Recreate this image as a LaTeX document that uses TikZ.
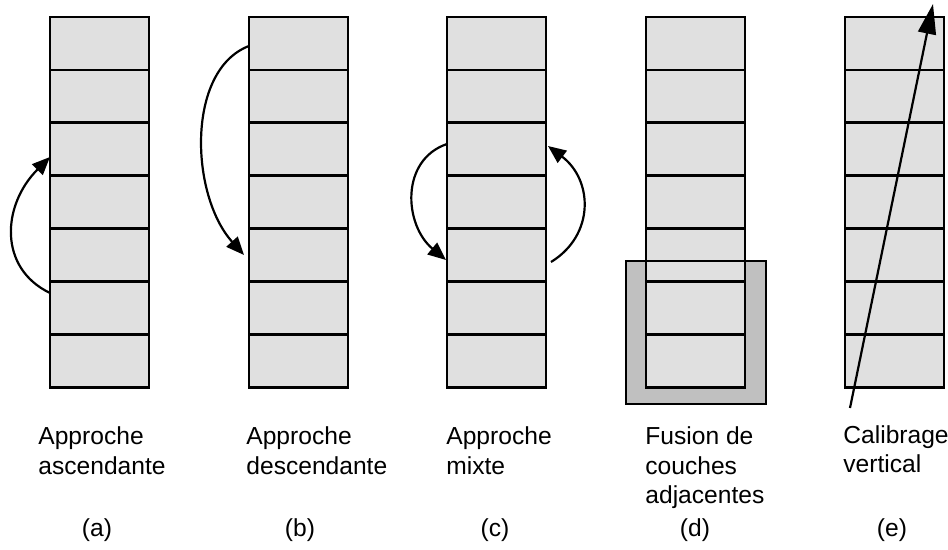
\documentclass[tikz,border=0pt]{standalone}
\usepackage{fontspec}
\setmainfont{Liberation Sans}
\usetikzlibrary{arrows.meta}

\definecolor{cellgray}{HTML}{E0E0E0}
\definecolor{fusegray}{HTML}{C0C0C0}

\tikzset{
	cell/.style = {draw, fill = cellgray, line width = 1.3pt, minimum width = 49.5pt, minimum height = 26.45pt, inner sep = 0pt, outer sep = 0pt},
	fusebox/.style = {fill = fusegray, minimum width = 70pt, minimum height = 71.5pt, inner sep = 0pt, outer sep = 0pt},
	caption/.style = {anchor = base west, align = left, inner sep = 0pt, font = \fontsize{12.3}{14.5}\selectfont},
	tag/.style = {anchor = base, inner sep = 0pt, font = \fontsize{12.3}{14.5}\selectfont},
	bend arrow/.style = {line width = 1.1pt, -{Triangle[length = 9pt, width = 7.5pt]}},
	long arrow/.style = {line width = 1.1pt, -{Triangle[length = 15pt, width = 9pt]}}
}

\begin{document}
\begin{tikzpicture}[x = 0.5pt, y = -0.5pt]
		\useasboundingbox (0, 0) rectangle (948, 550);
		% fused layers, filled first
		\node[fusebox] (fuse) at (696, 332.5) {};
		\foreach \c/\x in {a/50, b/249, c/447, d/646, e/845}
			\foreach \i in {1, ..., 7}
				\node[cell] (\c\i) at ({\x + 49.5}, {17 + 52.9*(\i - 0.5)}) {};
		\draw[line width = 1.3pt] (fuse.north west) rectangle (fuse.south east);
		% arrows
		\coordinate (a-from) at (50, 293);
		\coordinate (a-to) at (50, 157);
		\draw[bend arrow] (a-from) .. controls (-2, 268) and (2, 205) .. (a-to);
		\coordinate (b-from) at (249, 46);
		\coordinate (b-to) at (244, 255);
		\draw[bend arrow] (b-from) .. controls (186, 70) and (190, 195) .. (b-to);
		\coordinate (c-from) at (447, 144);
		\coordinate (c-to) at (446, 260);
		\draw[bend arrow] (c-from) .. controls (400, 160) and (404, 225) .. (c-to);
		\coordinate (c-back) at (551, 262);
		\coordinate (c-up) at (548, 146);
		\draw[bend arrow] (c-back) .. controls (595, 235) and (593, 180) .. (c-up);
		\coordinate (e-from) at (850, 408);
		\coordinate (e-to) at (933, 4);
		\draw[long arrow] (e-from) -- (e-to);
		% captions (base = last line)
		\node[caption] (cap-a) at (38, 474) {Approche\\ascendante};
		\node[caption] (cap-b) at (246, 474) {Approche\\descendante};
		\node[caption] (cap-c) at (446, 474) {Approche\\mixte};
		\node[caption] (cap-d) at (645, 503) {Fusion de\\couches\\adjacentes};
		\node[caption] (cap-e) at (843, 473) {Calibrage\\vertical};
		\node[tag] (tag-a) at (97, 537) {(a)};
		\node[tag] (tag-b) at (300, 537) {(b)};
		\node[tag] (tag-c) at (495, 537) {(c)};
		\node[tag] (tag-d) at (695, 537) {(d)};
		\node[tag] (tag-e) at (892, 537) {(e)};
	\end{tikzpicture}
\end{document}
